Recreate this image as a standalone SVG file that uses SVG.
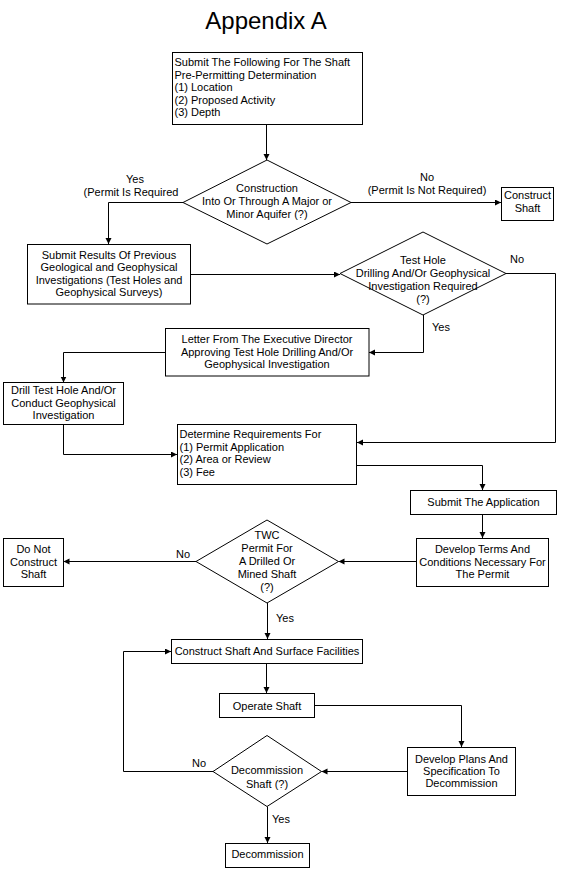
<svg xmlns="http://www.w3.org/2000/svg" width="581" height="870" viewBox="0 0 581 870">
<defs>
<style>
.box{fill:#fff;stroke:#000;stroke-width:1}
.t{font-family:"Liberation Sans",Arial,sans-serif;font-size:11px;fill:#000}
.c{text-anchor:middle}
.conn{fill:none;stroke:#000;stroke-width:1}
.title{font-family:"Liberation Sans",Arial,sans-serif;font-size:24px;fill:#000;text-anchor:middle}
</style>
<marker id="ah" markerUnits="userSpaceOnUse" markerWidth="7" markerHeight="7" refX="6" refY="3" orient="auto">
<path d="M0,0 L6,3 L0,6 Z" fill="#000"/>
</marker>
</defs>
<rect width="581" height="870" fill="#fff"/>
<text class="title" x="266" y="28.5">Appendix A</text>

<g id="connectors">
<path class="conn" marker-end="url(#ah)" d="M266.5,124.5 V160"/>
<path class="conn" marker-end="url(#ah)" d="M183,202.5 H108.5 V244"/>
<path class="conn" marker-end="url(#ah)" d="M351,202.5 H501"/>
<path class="conn" marker-end="url(#ah)" d="M190.5,274.5 H340"/>
<path class="conn" marker-end="url(#ah)" d="M506,273.5 H555.5 V442.5 H357"/>
<path class="conn" marker-end="url(#ah)" d="M423.5,315 V352.5 H369"/>
<path class="conn" marker-end="url(#ah)" d="M165.5,352.5 H63.5 V382.5"/>
<path class="conn" marker-end="url(#ah)" d="M63.5,424.5 V454.5 H177"/>
<path class="conn" marker-end="url(#ah)" d="M356.5,465.5 H482.5 V490"/>
<path class="conn" marker-end="url(#ah)" d="M482.5,514.5 V538"/>
<path class="conn" marker-end="url(#ah)" d="M416.5,561.5 H338.5"/>
<path class="conn" marker-end="url(#ah)" d="M196,561.5 H63.5"/>
<path class="conn" marker-end="url(#ah)" d="M267.5,603 V639"/>
<path class="conn" marker-end="url(#ah)" d="M266.5,663.5 V693"/>
<path class="conn" marker-end="url(#ah)" d="M314.5,705.5 H461.5 V747"/>
<path class="conn" marker-end="url(#ah)" d="M407.5,771.5 H321.5"/>
<path class="conn" marker-end="url(#ah)" d="M213,771.5 H123.5 V651.5 H171"/>
<path class="conn" marker-end="url(#ah)" d="M267.5,806.5 V843"/>
<text class="t c" x="135" y="182.5">Yes</text>
<text class="t c" x="131" y="195.5">(Permit Is Required</text>
<text class="t c" x="427" y="181">No</text>
<text class="t c" x="427" y="194">(Permit Is Not Required)</text>
<text class="t c" x="517" y="263">No</text>
<text class="t c" x="441" y="331">Yes</text>
<text class="t c" x="183" y="557.5">No</text>
<text class="t c" x="285" y="621.5">Yes</text>
<text class="t c" x="199" y="767">No</text>
<text class="t c" x="281" y="822.5">Yes</text>
</g>

<g id="submit-following">
<rect class="box" x="172.5" y="52.5" width="190" height="72"/>
<text class="t" x="174.5" y="66">Submit The Following For The Shaft</text>
<text class="t" x="174.5" y="78.5">Pre-Permitting Determination</text>
<text class="t" x="174.5" y="91">(1) Location</text>
<text class="t" x="174.5" y="103.5">(2) Proposed Activity</text>
<text class="t" x="174.5" y="116">(3) Depth</text>
</g>

<g id="aquifer-decision">
<polygon class="box" points="267,160 351,202.5 267,244 183,202.5"/>
<text class="t c" x="267" y="192">Construction</text>
<text class="t c" x="267" y="205">Into Or Through A Major or</text>
<text class="t c" x="267" y="218">Minor Aquifer (?)</text>
</g>

<g id="construct-shaft">
<rect class="box" x="501.5" y="187.5" width="52" height="33"/>
<text class="t c" x="527.5" y="199">Construct</text>
<text class="t c" x="527.5" y="211.5">Shaft</text>
</g>

<g id="submit-results">
<rect class="box" x="27.5" y="244.5" width="163" height="59.5"/>
<text class="t c" x="109" y="258.5">Submit Results Of Previous</text>
<text class="t c" x="109" y="271">Geological and Geophysical</text>
<text class="t c" x="109" y="283.5">Investigations (Test Holes and</text>
<text class="t c" x="109" y="296">Geophysical Surveys)</text>
</g>

<g id="testhole-decision">
<polygon class="box" points="423,232 506,273.5 423,315 340,273.5"/>
<text class="t c" x="423" y="264">Test Hole</text>
<text class="t c" x="423" y="277">Drilling And/Or Geophysical</text>
<text class="t c" x="423" y="290">Investigation Required</text>
<text class="t c" x="423" y="303">(?)</text>
</g>

<g id="letter">
<rect class="box" x="165.5" y="328.5" width="203.5" height="47.5"/>
<text class="t c" x="267" y="342.5">Letter From The Executive Director</text>
<text class="t c" x="267" y="355.5">Approving Test Hole Drilling And/Or</text>
<text class="t c" x="267" y="368">Geophysical Investigation</text>
</g>

<g id="drill">
<rect class="box" x="3.5" y="382.5" width="120" height="42"/>
<text class="t c" x="63.5" y="393.5">Drill Test Hole And/Or</text>
<text class="t c" x="63.5" y="406.5">Conduct Geophysical</text>
<text class="t c" x="63.5" y="419">Investigation</text>
</g>

<g id="determine">
<rect class="box" x="177.5" y="424.5" width="179" height="60"/>
<text class="t" x="179.5" y="438">Determine Requirements For</text>
<text class="t" x="179.5" y="450.5">(1) Permit Application</text>
<text class="t" x="179.5" y="463">(2) Area or Review</text>
<text class="t" x="179.5" y="475.5">(3) Fee</text>
</g>

<g id="submit-application">
<rect class="box" x="410.5" y="490.5" width="146" height="24"/>
<text class="t c" x="483.5" y="505.5">Submit The Application</text>
</g>

<g id="develop-terms">
<rect class="box" x="416.5" y="538.5" width="132" height="48"/>
<text class="t c" x="482.5" y="553">Develop Terms And</text>
<text class="t c" x="482.5" y="565.5">Conditions Necessary For</text>
<text class="t c" x="482.5" y="578">The Permit</text>
</g>

<g id="twc-decision">
<polygon class="box" points="267,520 338.5,561.5 267,603 196,561.5"/>
<text class="t c" x="267" y="538.5">TWC</text>
<text class="t c" x="267" y="551.5">Permit For</text>
<text class="t c" x="267" y="565">A Drilled Or</text>
<text class="t c" x="267" y="578">Mined Shaft</text>
<text class="t c" x="267" y="591">(?)</text>
</g>

<g id="do-not-construct">
<rect class="box" x="3.5" y="538.5" width="60" height="48"/>
<text class="t c" x="33.5" y="552.5">Do Not</text>
<text class="t c" x="33.5" y="565.5">Construct</text>
<text class="t c" x="33.5" y="578">Shaft</text>
</g>

<g id="construct-facilities">
<rect class="box" x="171.5" y="639.5" width="191" height="24"/>
<text class="t c" x="267" y="655">Construct Shaft And Surface Facilities</text>
</g>

<g id="operate">
<rect class="box" x="219.5" y="693.5" width="95" height="24"/>
<text class="t c" x="267" y="709.5">Operate Shaft</text>
</g>

<g id="develop-plans">
<rect class="box" x="407.5" y="747.5" width="108" height="48"/>
<text class="t c" x="461.5" y="762.5">Develop Plans And</text>
<text class="t c" x="461.5" y="774.5">Specification To</text>
<text class="t c" x="461.5" y="787">Decommission</text>
</g>

<g id="decommission-decision">
<polygon class="box" points="267,735.5 321.5,771.5 267,806.5 213,771.5"/>
<text class="t c" x="267" y="774">Decommission</text>
<text class="t c" x="267" y="788">Shaft (?)</text>
</g>

<g id="decommission">
<rect class="box" x="225.5" y="843.5" width="84" height="24"/>
<text class="t c" x="267.5" y="858">Decommission</text>
</g>
</svg>
